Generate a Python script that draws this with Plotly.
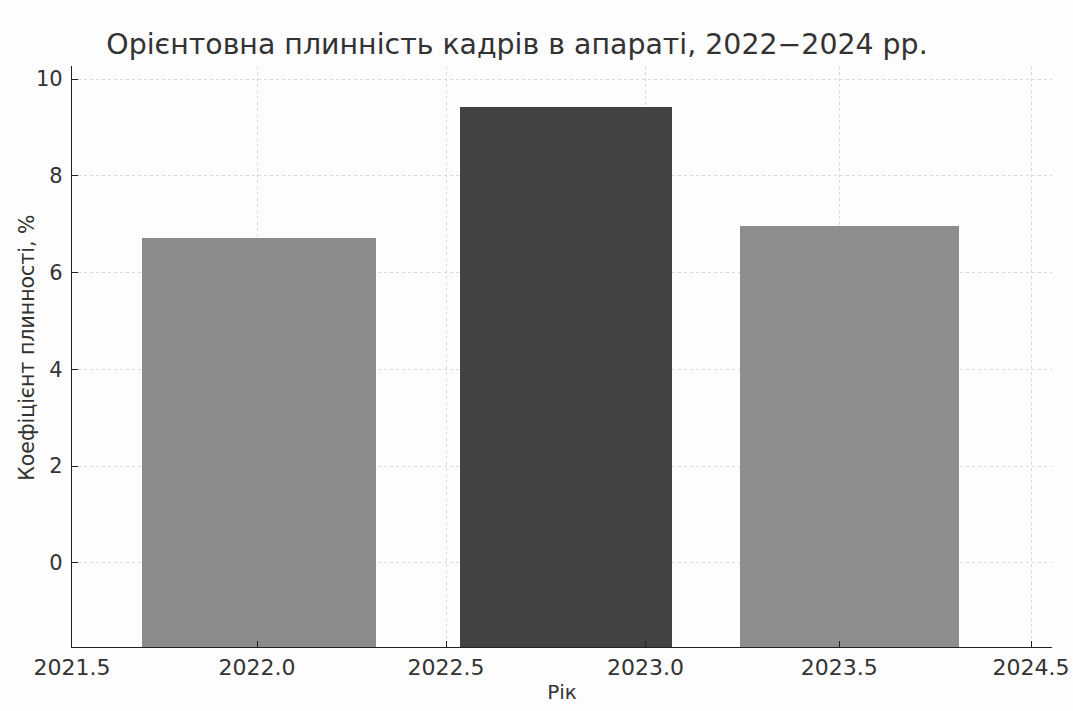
import plotly.graph_objects as go

# ---- data ----
years = ["2022", "2023", "2024"]
turnover_pct = [6.71, 9.43, 6.97]
bar_colors = ["#8b8b8b", "#424242", "#8d8d8d"]
x_tick_labels = ["2021.5", "2022.0", "2022.5", "2023.0", "2023.5", "2024.5"]
y_tick_vals = [0, 2, 4, 6, 8, 10]

# ---- layout helpers (positions on the drawn axis, in tick-step units) ----
x_tick_pos = [0.0, 0.965, 1.95, 2.99, 4.0, 5.0]
bar_pos = [0.976, 2.575, 4.054]
bar_width = [1.218, 1.104, 1.143]
y_min, y_max = -1.74, 10.27

fig = go.Figure()
fig.add_trace(go.Bar(
    x=bar_pos,
    y=[v - y_min for v in turnover_pct],
    base=[y_min] * len(turnover_pct),
    width=bar_width,
    marker=dict(color=bar_colors, line=dict(width=0)),
    customdata=years,
    hovertemplate="%{customdata}: %{y}<extra></extra>",
))

font_main = "DejaVu Sans, Verdana, sans-serif"
W, H = 1073, 711
L, R, T, B = 72, 21, 66, 63.5
fig.update_layout(
    width=W, height=H,
    margin=dict(l=L, r=R, t=T, b=B, autoexpand=False),
    paper_bgcolor="#fdfdfd",
    plot_bgcolor="#fdfdfd",
    showlegend=False,
    font=dict(family=font_main, color="#333333"),
    title=dict(
        text="Орієнтовна плинність кадрів в апараті, 2022−2024 рр.",
        x=517 / W, xanchor="center",
        y=1 - 44 / H, yanchor="middle",
        font=dict(size=28.4, color="#333333", family=font_main),
    ),
    bargap=0,
)
fig.add_annotation(
    text="Коефіцієнт плинності, %",
    textangle=-90,
    xref="paper", yref="paper",
    x=(27 - L) / (W - L - R), y=(H - B - 348) / (H - T - B),
    xanchor="center", yanchor="middle",
    showarrow=False,
    font=dict(size=20.5, color="#333333", family=font_main),
)
fig.update_xaxes(
    range=[0.0, 5.109],
    automargin=False,
    tickmode="array", tickvals=x_tick_pos, ticktext=x_tick_labels,
    tickfont=dict(size=22, color="#333333"),
    showgrid=True, gridcolor="#d8d8d8", griddash="dot", gridwidth=1,
    showline=True, linecolor="#222222", linewidth=1.3, mirror=False,
    ticks="inside", ticklen=6, tickcolor="#222222", tickwidth=1,
    zeroline=False,
    title=dict(text="Рік", font=dict(size=20, color="#333333"), standoff=6),
)
fig.update_yaxes(
    range=[y_min, y_max],
    automargin=False,
    tickmode="array", tickvals=y_tick_vals,
    tickfont=dict(size=21, color="#333333"),
    ticklabelstandoff=4,
    showgrid=True, gridcolor="#d8d8d8", griddash="dot", gridwidth=1,
    showline=True, linecolor="#222222", linewidth=1.3, mirror=False,
    ticks="inside", ticklen=6, tickcolor="#222222", tickwidth=1,
    zeroline=False,
)

fig.write_html(
    "out.html",
    config={"displayModeBar": False},
    post_script="document.body.style.margin='0';document.body.style.overflow='hidden';",
)
